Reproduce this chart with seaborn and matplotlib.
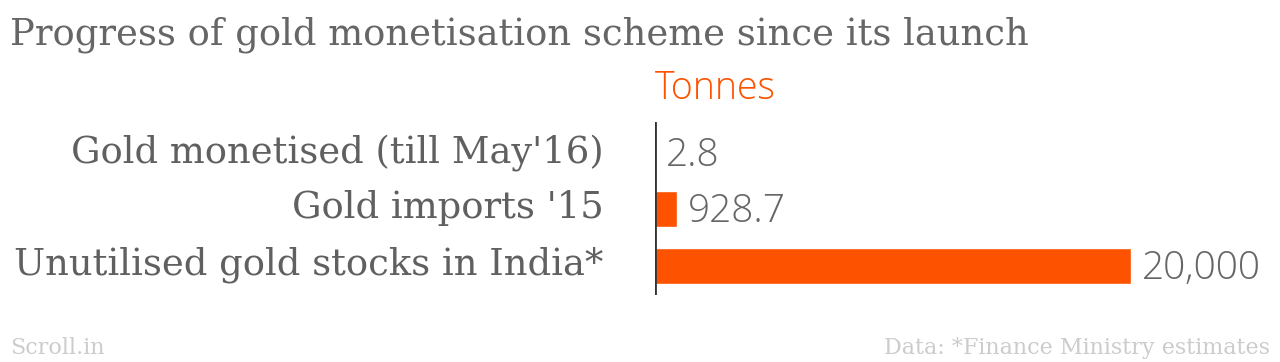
import pandas as pd
import seaborn as sns
import matplotlib.pyplot as plt
from matplotlib import transforms

# Chart data
categories = ["Gold monetised (till May'16)", "Gold imports '15", "Unutilised gold stocks in India*"]
tonnes = [2.8, 928.7, 20000]
value_labels = ["2.8", "928.7", "20,000"]

df = pd.DataFrame({"category": categories, "tonnes": tonnes})

sns.set_style("white")
plt.rcParams['font.family'] = ['DejaVu Serif']

orange = '#fd5200'
gray = '#666666'

fig = plt.figure(figsize=(12.8, 3.62), dpi=100)
ax = fig.add_axes([0.5117, 0.185, 0.8836 - 0.5117, 0.663 - 0.185])

sns.barplot(data=df, x="tonnes", y="category", color=orange, width=0.64,
            saturation=1, ax=ax)

ax.set_xlim(0, 20000)
ax.set_ylim(2.52, -0.55)
ax.set_xlabel("")
ax.set_ylabel("")
ax.set_xticks([])

# Detached light-grey ticks, solid axis line at zero
for s in ["top", "right", "bottom", "left"]:
    ax.spines[s].set_visible(False)
ax.spines["left"].set_position(("outward", 15))
ax.tick_params(axis="y", length=14, width=1.5, color="#dddddd", pad=8,
               labelsize=26.6, labelcolor="#606060")
ax.axvline(0, color="#333333", lw=2)

# nudge category labels up a little
shift = transforms.ScaledTranslation(0, 5 / 100, fig.dpi_scale_trans)
for lab in ax.get_yticklabels():
    lab.set_transform(lab.get_transform() + shift)

# Value labels
for i, (v, lab) in enumerate(zip(tonnes, value_labels)):
    ax.annotate(lab, (v, i), xytext=(8, -2), textcoords="offset points",
                va="center", ha="left", fontsize=28, color=gray,
                family=["Open Sans", "DejaVu Sans"], fontweight="light",
                annotation_clip=False)

ax.text(0, 1.08, "Tonnes", transform=ax.transAxes, ha="left", va="bottom",
        fontsize=27, color=orange, family=["Open Sans", "DejaVu Sans"],
        fontweight="light")

fig.text(0.008, 0.905, "Progress of gold monetisation scheme since its launch",
         fontsize=26.6, color=gray, ha="left", va="center")
fig.text(0.008, 0.04, "Scroll.in", fontsize=16, color="#cccccc", ha="left", va="center")
fig.text(0.992, 0.04, "Data: *Finance Ministry estimates", fontsize=16,
         color="#cccccc", ha="right", va="center")

plt.savefig("out.png", dpi=100)
plt.close()
